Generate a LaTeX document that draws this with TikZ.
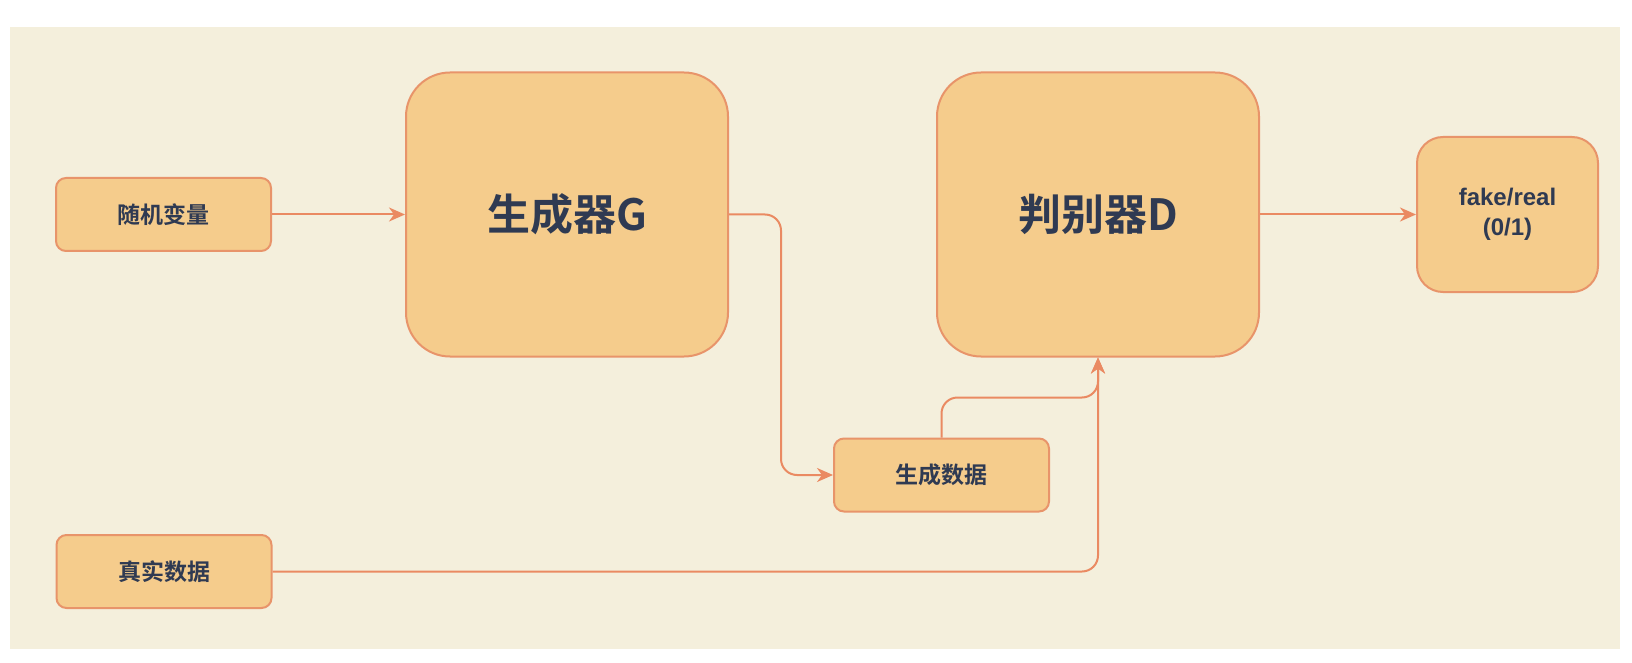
\documentclass[tikz,border=0pt]{standalone}
\usepackage{fontspec}
\setmainfont{Liberation Sans}
\newfontfamily\cjk{Noto Sans CJK SC}[BoldFont={Noto Sans CJK SC Bold}]
\usetikzlibrary{arrows.meta,positioning}
\definecolor{GBack}{HTML}{F4EFDC}
\definecolor{GFill}{HTML}{F5CC8C}
\definecolor{GEdge}{HTML}{E8946A}
\definecolor{GLine}{HTML}{EA8A62}
\definecolor{GText}{HTML}{2F3A52}

\begin{document}
\begin{tikzpicture}[
  x=0.5pt,y=-0.5pt,
  every node/.style={text=GText},
  smallbox/.style={draw=GEdge,line width=1pt,fill=GFill,rounded corners=5pt,
    minimum width=107.5pt,minimum height=36.5pt,inner sep=0pt,
    font=\cjk\bfseries\fontsize{11.5}{14}\selectfont},
  bigbox/.style={draw=GEdge,line width=1pt,fill=GFill,rounded corners=22pt,
    minimum width=161pt,minimum height=142pt,inner sep=0pt,
    font=\cjk\bfseries\fontsize{21.5}{25}\selectfont},
  outbox/.style={draw=GEdge,line width=1pt,fill=GFill,rounded corners=13pt,
    minimum width=90.5pt,minimum height=77.5pt,inner sep=0pt,align=center,
    font=\bfseries\fontsize{12}{15}\selectfont},
  arr/.style={-{Stealth[length=8pt,width=7pt,inset=2.5pt]},line width=1pt,
    color=GLine,rounded corners=8pt}
]
  \useasboundingbox (0,0) rectangle (1632,663);
  \fill[GBack] (10,27) rectangle (1620,649);

  \node[smallbox] (rand) at (163.5,214.5) {随机变量};
  \node[bigbox] (gen) at (567,214.5) {生成器G};
  \node[bigbox] (disc) at (1098,214.5) {判别器D};
  \node[outbox] (fake) at (1507.5,214.5) {fake/real\\(0/1)};
  \node[smallbox] (gdata) at (941.5,475) {生成数据};
  \node[smallbox] (real) at (164,571.5) {真实数据};
  \coordinate (merge) at ([yshift=-20pt]disc.south);

  \draw[arr] (rand.east) -- (rand.east -| gen.west);
  \draw[arr] (gen.east) -- ++(52,0) |- (gdata.west);
  \draw[arr] (gdata.north) |- (merge) -- (disc.south);
  \draw[arr] (real.east) -| (disc.south);
  \draw[arr] (disc.east) -- (disc.east -| fake.west);
\end{tikzpicture}
\end{document}
